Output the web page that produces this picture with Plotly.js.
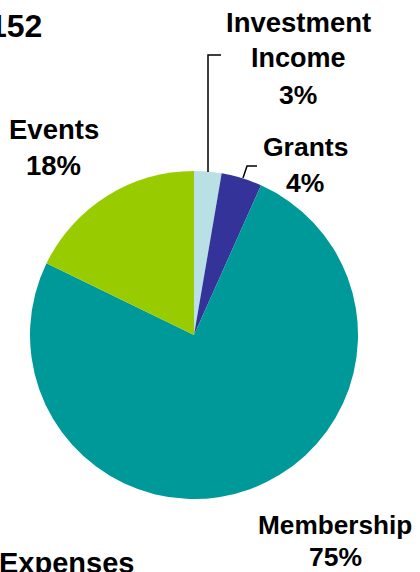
<!DOCTYPE html>
<html>
<head>
<meta charset="utf-8">
<script src="https://cdn.plot.ly/plotly-3.0.1.min.js"></script>
<style>
html,body{margin:0;padding:0;background:#fff;}
#chart{width:420px;height:572px;}
</style>
</head>
<body>
<div id="chart"></div>
<script>
// Data
const categories = ['Investment Income', 'Grants', 'Membership', 'Events'];
const shares = [2.7, 4.0, 75.5, 17.8];
const pctLabels = ['3%', '4%', '75%', '18%'];
const colors = ['#b9e0e5', '#333399', '#009999', '#99cc00'];
const topTitle = '152';
const bottomTitle = 'Expenses';

const W = 420, H = 572;
const FONT = '"Liberation Sans", Arial, Helvetica, sans-serif';

function ann(text, x, baseline, size, xanchor) {
  return {
    text: '<b>' + text + '</b>',
    xref: 'paper', yref: 'paper',
    x: x / W,
    y: 1 - (baseline + 0.212 * size + 1) / H,
    xanchor: xanchor || 'center', yanchor: 'bottom',
    showarrow: false,
    font: {family: FONT, size: size, color: '#000'}
  };
}

const cx = 194, cy = 335, r = 164;

const annotations = [
  ann(topTitle, 44, 38, 32, 'right'),
  ann(bottomTitle, -3, 574, 29, 'left'),
  ann('Investment', 298, 33, 27.5),
  ann('Income', 298, 68, 27),
  ann(pctLabels[0], 298, 105, 26.5),
  ann('Grants', 305, 157, 26.5),
  ann(pctLabels[1], 305, 193, 26.5),
  ann('Events', 54, 140, 27.5),
  ann(pctLabels[3], 54, 176, 27.5),
  ann('Membership', 335, 535, 26.2),
  ann(pctLabels[2], 335, 567, 26.5)
];

function px(x){ return x / W; }
function py(y){ return 1 - y / H; }

const shapes = [
  {type: 'path', xref: 'paper', yref: 'paper',
   path: 'M' + px(208) + ',' + py(172) + ' L' + px(208) + ',' + py(55) + ' L' + px(221) + ',' + py(55),
   line: {color: '#000', width: 1.5}},
  {type: 'path', xref: 'paper', yref: 'paper',
   path: 'M' + px(243) + ',' + py(178) + ' L' + px(247) + ',' + py(166) + ' L' + px(257) + ',' + py(166),
   line: {color: '#000', width: 1.5}}
];

const trace = {
  type: 'pie',
  labels: categories,
  values: shares,
  sort: false,
  direction: 'clockwise',
  rotation: 0,
  marker: {colors: colors, line: {width: 0}},
  textinfo: 'none',
  hoverinfo: 'label+percent',
  showlegend: false,
  domain: {x: [(cx - r) / W, (cx + r) / W], y: [1 - (cy + r) / H, 1 - (cy - r) / H]}
};

Plotly.newPlot('chart', [trace], {
  width: W, height: H,
  margin: {l: 0, r: 0, t: 0, b: 0},
  paper_bgcolor: '#fff',
  showlegend: false,
  annotations: annotations,
  shapes: shapes
}, {displayModeBar: false, staticPlot: true});
</script>
</body>
</html>
